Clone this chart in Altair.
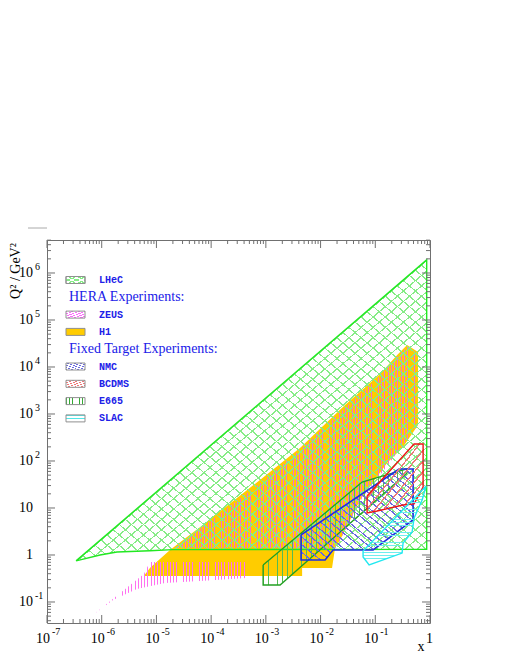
import altair as alt
import pandas as pd

# ---------------- data ----------------
lhec_x = [3.4e-7, 9.3e-7, 1.9e-6, 7.6e-6, 2.0e-5, 0.87, 0.87]
lhec_q2 = [0.75, 1.0, 1.16, 1.23, 1.30, 1.32, 1.9e6]

h1_x = [5.9e-6, 7.6e-6, 1.77e-5, 6.3e-5, 7.8e-4, 4.2e-3, 0.028, 0.1225, 0.251, 0.381,
        0.605, 0.605, 0.322, 0.164, 0.0527, 0.0227, 0.0184, 0.0162, 4.6e-3, 4.6e-3]
h1_q2 = [0.357, 0.528, 1.28, 3.94, 39.4, 189, 1550, 7100, 1.80e4, 2.94e4,
         2.08e4, 583, 199, 90.6, 14.8, 2.08, 1.41, 0.528, 0.528, 0.357]

zeus_low_x = [6.9e-7, 5.9e-6, 7.6e-6, 4.5e-4, 4.5e-4, 6.3e-5, 1.44e-5, 4.4e-6, 1.61e-6]
zeus_low_q2 = [0.053, 0.394, 0.71, 0.71, 0.324, 0.28, 0.254, 0.189, 0.110]

zeus_x = [2.19e-5, 7.7e-5, 8.5e-4, 4.2e-3, 0.028, 0.1225, 0.251, 0.381, 0.581,
          0.581, 0.322, 0.187, 0.0574, 0.0227, 0.0209]
zeus_q2 = [1.41, 4.35, 35.7, 171, 1343, 6440, 1.63e4, 2.67e4, 1.99e4,
           583, 219, 95.3, 16.3, 2.08, 1.41]

nmc_x = [4.4e-3, 4.4e-3, 0.0121, 0.0169, 0.0912, 0.491, 0.491, 0.272, 0.187]
nmc_q2 = [2.67, 0.78, 0.78, 1.28, 1.28, 5.56, 67.6, 67.6, 50.4]

bcdms_x = [0.0708, 0.0708, 0.108, 0.322, 0.512, 0.748, 0.748, 0.512]
bcdms_q2 = [18.0, 7.83, 8.63, 11.6, 12.2, 28.0, 230, 230]

e665_x = [8.9e-4, 8.9e-4, 1.82e-3, 0.381, 0.381, 0.139, 0.0574]
e665_q2 = [0.612, 0.230, 0.230, 55.6, 67.6, 48.0, 35.7]

slac_x = [0.0598, 0.0598, 0.0771, 0.309, 0.322, 0.471, 0.512, 0.718, 0.849]
slac_q2 = [1.22, 0.906, 0.612, 1.10, 1.80, 3.08, 6.12, 14.8, 29.4]

x_tick_values = [1e-7, 1e-6, 1e-5, 1e-4, 1e-3, 1e-2, 1e-1, 1]
x_tick_base = ["10", "10", "10", "10", "10", "10", "10", "1"]
x_tick_exp = ["-7", "-6", "-5", "-4", "-3", "-2", "-1", ""]

y_tick_values = [1e-1, 1, 10, 1e2, 1e3, 1e4, 1e5, 1e6]
y_tick_base = ["10", "1", "10", "10", "10", "10", "10", "10"]
y_tick_exp = ["-1", "", "", "2", "3", "4", "5", "6"]

legend_labels = ["LHeC", "HERA Experiments:", "ZEUS", "H1", "Fixed Target Experiments:",
                 "NMC", "BCDMS", "E665", "SLAC"]

# ---------------- styling ----------------
W = H = 383
XDOM = [1e-7, 1.0]
YDOM = [10 ** -1.447, 10 ** 6.702]
xscale = alt.Scale(type="log", domain=XDOM)
yscale = alt.Scale(type="log", domain=YDOM)
SERIF = "Liberation Serif"
MONO = "Liberation Mono"
BLUE = "#2020E8"
AXC = "#707070"
CLEAR = "rgba(255,255,255,0)"


def hatch(color, n, frac=0.25, direction="v"):
    stops = []
    for i in range(n):
        a = round(i / n, 5)
        b = round((i + frac) / n, 5)
        stops += [alt.GradientStop(offset=a, color=CLEAR),
                  alt.GradientStop(offset=a, color=color),
                  alt.GradientStop(offset=b, color=color),
                  alt.GradientStop(offset=b, color=CLEAR)]
    coords = {"v": (0, 0, 1, 0), "h": (0, 0, 0, 1),
              "/": (0, 0, 1, 1), "\\": (0, 1, 1, 0)}[direction]
    x1, y1, x2, y2 = coords
    return alt.Gradient(gradient="linear", stops=stops, x1=x1, y1=y1, x2=x2, y2=y2)


def poly(xs, qs, fill, stroke=None, sw=1.2, fill_opacity=1.0):
    xs2 = list(xs) + [xs[0]]
    qs2 = list(qs) + [qs[0]]
    df = pd.DataFrame({"x": xs2, "q": qs2, "o": list(range(len(xs2)))})
    kw = dict(fill=fill, fillOpacity=fill_opacity, strokeWidth=sw, interpolate="linear", clip=True)
    if stroke is None:
        kw["stroke"] = "#ffffff"
        kw["strokeOpacity"] = 0
    else:
        kw["stroke"] = stroke
    return alt.Chart(df).mark_line(**kw).encode(
        x=alt.X("x:Q", scale=xscale, axis=None),
        y=alt.Y("q:Q", scale=yscale, axis=None),
        order=alt.Order("o:Q"),
    )


layers = []
# H1 solid
layers.append(poly(h1_x, h1_q2, "#FFCC00"))
# ZEUS vertical pink hatching
layers.append(poly(zeus_low_x, zeus_low_q2, hatch("#FF70F0", 48, 0.28, "v")))
layers.append(poly(zeus_x, zeus_q2, hatch("#F070D0", 74, 0.28, "v")))
# LHeC cross hatch
LH = "#86EC86"
layers.append(poly(lhec_x, lhec_q2, hatch(LH, 58, 0.15, "/")))
layers.append(poly(lhec_x, lhec_q2, hatch(LH, 58, 0.15, "\\"), stroke="#22E822", sw=1.4))
# E665
layers.append(poly(e665_x, e665_q2, hatch("#55BB55", 30, 0.16, "v"), stroke="#22A022", sw=1.3))
# NMC
layers.append(poly(nmc_x, nmc_q2, hatch("#6A6AE0", 24, 0.2, "\\"), stroke="#1E2EE0", sw=1.6))
# BCDMS
layers.append(poly(bcdms_x, bcdms_q2, hatch("#EE7777", 13, 0.2, "/"), stroke="#EE1515", sw=1.4))
# SLAC
layers.append(poly(slac_x, slac_q2, hatch("#6EEEEE", 24, 0.2, "h"), stroke="#22E8F0", sw=1.4))

# ---------------- ticks (inward, on all four sides) ----------------
x_minor = [m * 10.0 ** k for k in range(-7, 0) for m in range(2, 10)]
y_minor = [m * 10.0 ** k for k in range(-2, 7) for m in range(2, 10)
           if YDOM[0] <= m * 10.0 ** k <= YDOM[1]]


def xticks(vals, length):
    df = pd.DataFrame({"v": vals})
    base = alt.Chart(df).mark_rule(color=AXC, strokeWidth=1)
    bottom = base.encode(x=alt.X("v:Q", scale=xscale, axis=None),
                         y=alt.value(H), y2=alt.value(H - length))
    top = base.encode(x=alt.X("v:Q", scale=xscale, axis=None),
                      y=alt.value(0), y2=alt.value(length))
    return [bottom, top]


def yticks(vals, length):
    df = pd.DataFrame({"v": vals})
    base = alt.Chart(df).mark_rule(color=AXC, strokeWidth=1)
    left = base.encode(y=alt.Y("v:Q", scale=yscale, axis=None),
                       x=alt.value(0), x2=alt.value(length))
    right = base.encode(y=alt.Y("v:Q", scale=yscale, axis=None),
                        x=alt.value(W), x2=alt.value(W - length))
    return [left, right]


layers += xticks(x_tick_values, 8) + xticks(x_minor, 4)
layers += yticks(y_tick_values, 8) + yticks(y_minor, 4)

# ---------------- tick labels ----------------
xlab = pd.DataFrame({"v": x_tick_values, "b": x_tick_base, "e": x_tick_exp})
layers.append(alt.Chart(xlab).mark_text(font=SERIF, fontSize=14, align="right", baseline="middle",
                                        dx=3, color="black").encode(
    x=alt.X("v:Q", scale=xscale, axis=None), y=alt.value(H + 16), text="b:N"))
layers.append(alt.Chart(xlab).mark_text(font=SERIF, fontSize=10, align="left", baseline="middle",
                                        dx=5, color="black").encode(
    x=alt.X("v:Q", scale=xscale, axis=None), y=alt.value(H + 9), text="e:N"))

ylab = pd.DataFrame({"v": y_tick_values, "b": y_tick_base, "e": y_tick_exp})
layers.append(alt.Chart(ylab).mark_text(font=SERIF, fontSize=14, align="right", baseline="middle",
                                        color="black").encode(
    y=alt.Y("v:Q", scale=yscale, axis=None), x=alt.value(-14), text="b:N"))
layers.append(alt.Chart(ylab).mark_text(font=SERIF, fontSize=10, align="left", baseline="middle",
                                        dy=-6, color="black").encode(
    y=alt.Y("v:Q", scale=yscale, axis=None), x=alt.value(-12), text="e:N"))

# axis titles
one = pd.DataFrame({"a": [0]})
layers.append(alt.Chart(one).mark_text(text="Q² / GeV²", font=SERIF, fontSize=14, angle=270,
                                       align="center", baseline="middle", color="black").encode(
    x=alt.value(-31), y=alt.value(31)))
layers.append(alt.Chart(one).mark_text(text="x", font=SERIF, fontSize=14, align="center",
                                       baseline="alphabetic", color="black").encode(
    x=alt.value(374), y=alt.value(411)))
layers.append(alt.Chart(one).mark_rule(color="#AAAAAA", strokeWidth=1).encode(
    x=alt.value(-19), x2=alt.value(0), y=alt.value(-12)))

# ---------------- legend ----------------
swatch_fill = {
    "LHeC": [hatch(LH, 4, 0.25, "/"), hatch(LH, 4, 0.25, "\\")],
    "ZEUS": [hatch("#FF66FF", 6, 0.35, "/")],
    "H1": ["#FFCC00"],
    "NMC": [hatch("#6A6AE0", 6, 0.3, "\\")],
    "BCDMS": [hatch("#EE7777", 6, 0.3, "/")],
    "E665": [hatch("#33AA33", 6, 0.3, "v")],
    "SLAC": [hatch("#50E8E8", 2, 0.3, "h")],
}
for i, lab in enumerate(legend_labels):
    yy = 40 + 17.3 * i
    if lab.endswith(":"):
        layers.append(alt.Chart(one).mark_text(text=lab, font=SERIF, fontSize=14, align="left",
                                               baseline="middle", color=BLUE).encode(
            x=alt.value(22), y=alt.value(yy)))
        continue
    for f in swatch_fill[lab]:
        layers.append(alt.Chart(one).mark_rect(fill=f, stroke="#909090", strokeWidth=1).encode(
            x=alt.value(19), x2=alt.value(38), y=alt.value(yy - 3.5), y2=alt.value(yy + 3.5)))
    layers.append(alt.Chart(one).mark_text(text=lab, font=MONO, fontWeight="bold", fontSize=10,
                                           align="left", baseline="middle", color=BLUE).encode(
        x=alt.value(52), y=alt.value(yy)))

chart = alt.layer(*layers).properties(
    width=W, height=H,
    autosize=alt.AutoSizeParams(type="none"),
    padding={"left": 39, "top": 232, "right": 69, "bottom": 33},
).configure_view(stroke=AXC, strokeWidth=1)

chart.save("out.html", embed_options={"renderer": "svg", "actions": False})
